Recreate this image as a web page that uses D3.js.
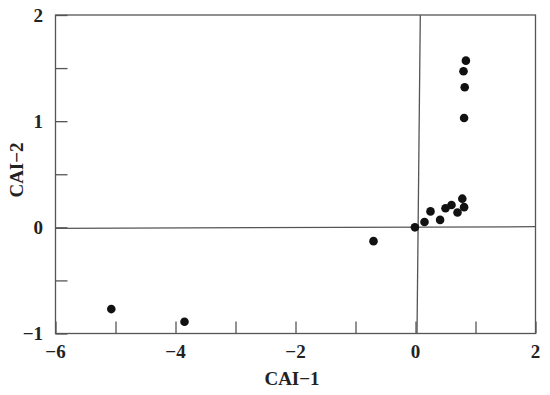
<!DOCTYPE html>
<html>
<head>
	<meta charset="utf-8">
	<title>CAI scatter</title>
	<script src="https://d3js.org/d3.v7.min.js"></script>
	<style>
		body { margin: 0; background: #fff; }
		text { font-family: "Liberation Serif", "DejaVu Serif", serif; font-weight: bold; fill: #222; }
	</style>
</head>
<body>
	<script type="text/javascript">
		var width = 550
		var height = 395

		// CAI-1 / CAI-2 values
		var cai1 = [0.84, 0.80, 0.82, 0.81, 0.78, 0.81, 0.70, 0.60, 0.50, 0.25, 0.41, 0.15, -0.01, -5.07, -3.85, -0.70]
		var cai2 = [1.57, 1.47, 1.32, 1.03, 0.27, 0.19, 0.14, 0.21, 0.18, 0.15, 0.07, 0.05, 0.00, -0.77, -0.89, -0.13]

		var xTicks = [-6, -4, -2, 0, 2]
		var xMinor = [-5, -3, -1, 1]
		var yTicks = [-1, 0, 1, 2]
		var yMinor = [-0.5, 0.5, 1.5]

		// reference lines (slightly tilted in the original)
		var hLine = [[-6, -0.01], [2, 0.006]]
		var vLine = [[0.025, -1], [0.08, 2]]

		var x = d3.scaleLinear().domain([-6, 2]).range([55.5, 535.5])
		var y = d3.scaleLinear().domain([-1, 2]).range([333.5, 15])

		var svg = d3.select("body").append("svg")
			.attr("width", width)
			.attr("height", height)

		var axisColor = "#555"

		var xAxis = d3.axisBottom(x).tickValues(xTicks.concat(xMinor)).tickSize(-12).tickFormat("")
		var yAxis = d3.axisLeft(y).tickValues(yTicks.concat(yMinor)).tickSize(-12).tickFormat("")

		var gx = svg.append("g").attr("transform", "translate(0," + y(-1) + ")").call(xAxis)
		var gy = svg.append("g").attr("transform", "translate(" + x(-6) + ",0)").call(yAxis)
		gx.select(".domain").remove()
		gy.select(".domain").remove()
		svg.selectAll(".tick line").attr("stroke", axisColor).attr("stroke-width", 1.3)

		// frame
		svg.append("rect")
			.attr("x", x(-6)).attr("y", y(2))
			.attr("width", x(2) - x(-6)).attr("height", y(-1) - y(2))
			.attr("fill", "none").attr("stroke", axisColor).attr("stroke-width", 1.3)

		var line = d3.line().x(d => x(d[0])).y(d => y(d[1]))
		svg.append("path").attr("d", line(hLine)).attr("stroke", axisColor).attr("stroke-width", 1.3).attr("fill", "none")
		svg.append("path").attr("d", line(vLine)).attr("stroke", axisColor).attr("stroke-width", 1.3).attr("fill", "none")

		var fmt = d => d < 0 ? "\u2212" + Math.abs(d) : "" + d

		svg.selectAll(".xlab").data(xTicks).enter().append("text")
			.attr("x", d => x(d))
			.attr("y", 358)
			.attr("text-anchor", "middle")
			.attr("font-size", 19)
			.text(fmt)

		svg.selectAll(".ylab").data(yTicks).enter().append("text")
			.attr("x", 43)
			.attr("y", d => y(d) + 6.5)
			.attr("text-anchor", "end")
			.attr("font-size", 19)
			.text(fmt)

		svg.append("text")
			.attr("x", 292).attr("y", 385)
			.attr("text-anchor", "middle")
			.attr("font-size", 19)
			.text("CAI\u22121")

		svg.append("text")
			.attr("transform", "translate(23,170) rotate(-90)")
			.attr("text-anchor", "middle")
			.attr("font-size", 19)
			.text("CAI\u22122")

		var pts = cai1.map((v, i) => ({x: v, y: cai2[i]}))
		svg.selectAll("circle").data(pts).enter().append("circle")
			.attr("cx", d => x(d.x))
			.attr("cy", d => y(d.y))
			.attr("r", 4.3)
			.attr("fill", "#111")
	</script>
</body>
</html>
